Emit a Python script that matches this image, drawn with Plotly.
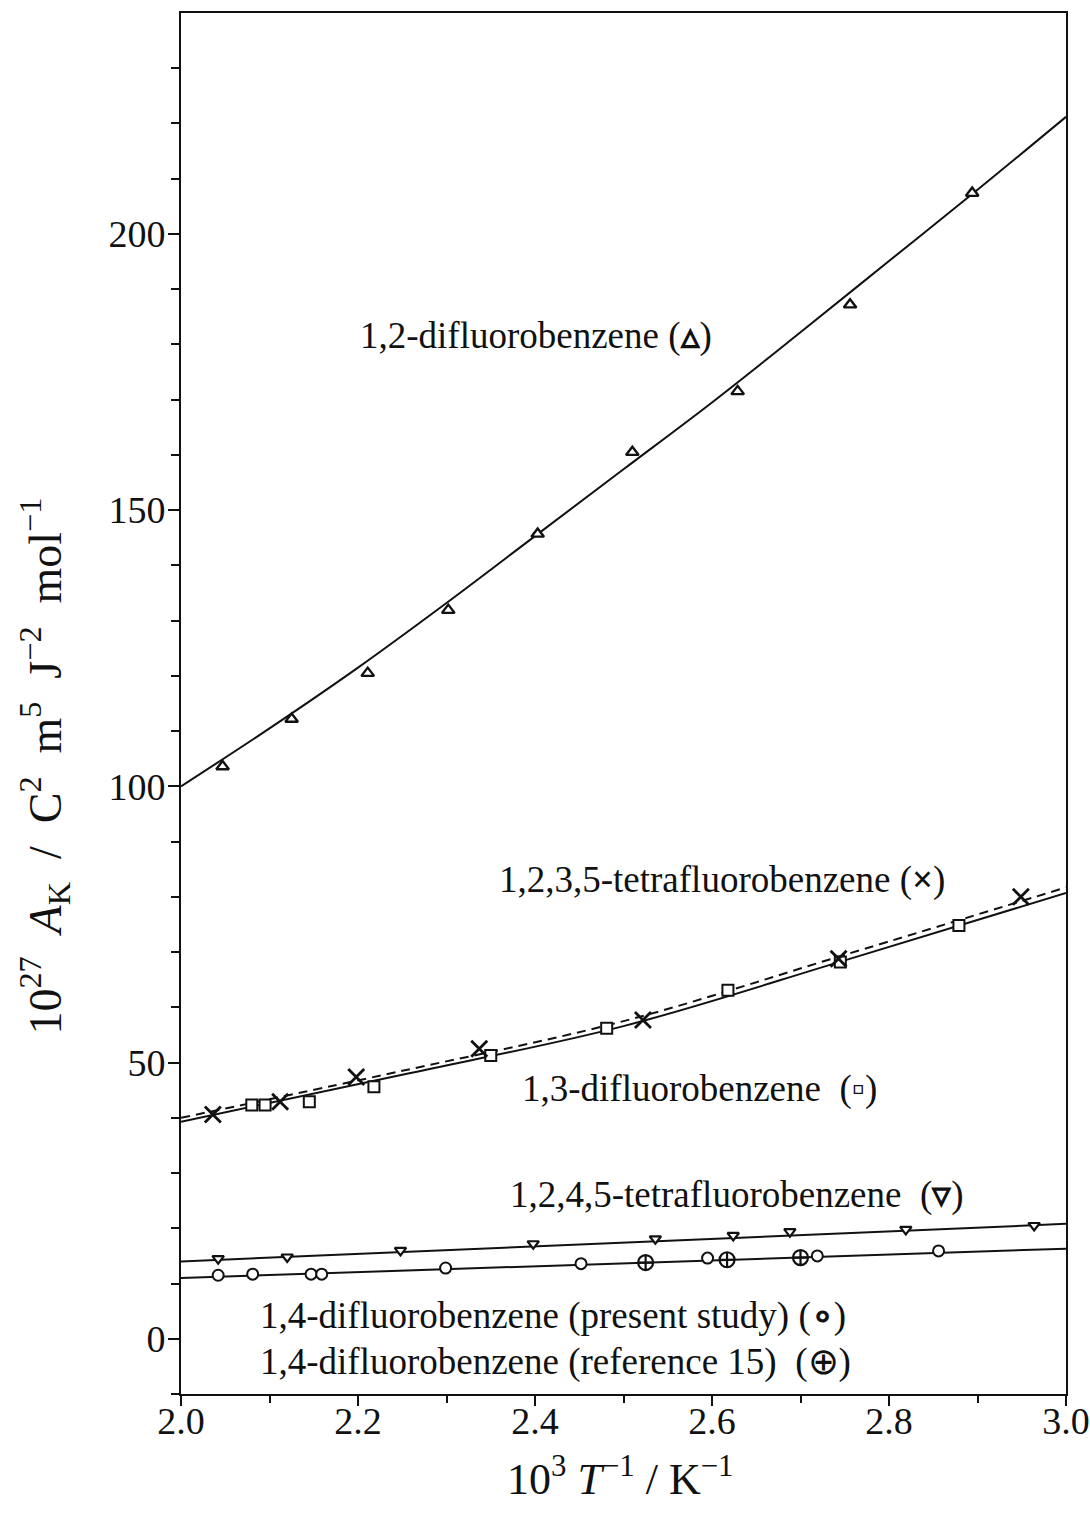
import plotly.graph_objects as go

# ---- data ----
# 1,2-difluorobenzene (triangles)
dfb12_x = [2.047, 2.125, 2.211, 2.302, 2.403, 2.510, 2.629, 2.756, 2.894]
dfb12_y = [103.6, 112.2, 120.5, 131.9, 145.7, 160.5, 171.5, 187.2, 207.4]
dfb12_fit_x = [2.0, 2.1, 2.2, 2.3, 2.4, 2.5, 2.6, 2.7, 2.8, 2.9, 3.0]
dfb12_fit_y = [100.0, 110.5, 121.5, 133.2, 145.3, 157.4, 169.5, 182.2, 195.1, 208.0, 221.2]

# 1,2,3,5-tetrafluorobenzene (crosses)
tfb1235_x = [2.036, 2.112, 2.198, 2.337, 2.522, 2.743, 2.949]
tfb1235_y = [40.6, 42.9, 47.4, 52.5, 57.7, 68.8, 80.0]
tfb1235_fit_x = [2.0, 2.25, 2.5, 2.75, 3.0]
tfb1235_fit_y = [40.0, 48.5, 57.5, 69.5, 81.7]

# 1,3-difluorobenzene (squares)
dfb13_x = [2.080, 2.095, 2.145, 2.218, 2.350, 2.481, 2.618, 2.745, 2.879]
dfb13_y = [42.3, 42.3, 42.9, 45.6, 51.3, 56.2, 63.1, 68.2, 74.8]
dfb13_fit_x = [2.0, 2.25, 2.5, 2.75, 3.0]
dfb13_fit_y = [39.3, 47.8, 56.6, 68.5, 80.7]

# 1,2,4,5-tetrafluorobenzene (inverted triangles)
tfb1245_x = [2.042, 2.120, 2.248, 2.398, 2.536, 2.624, 2.688, 2.819, 2.964]
tfb1245_y = [14.5, 14.8, 16.0, 17.2, 18.1, 18.7, 19.4, 19.8, 20.5]
tfb1245_fit_x = [2.0, 3.0]
tfb1245_fit_y = [14.0, 20.8]

# 1,4-difluorobenzene, present study (circles)
dfb14_x = [2.042, 2.081, 2.147, 2.159, 2.299, 2.452, 2.595, 2.719, 2.856]
dfb14_y = [11.5, 11.7, 11.7, 11.7, 12.8, 13.6, 14.6, 15.0, 15.9]
dfb14_fit_x = [2.0, 3.0]
dfb14_fit_y = [11.0, 16.3]

# 1,4-difluorobenzene, reference 15 (circle-plus)
dfb14ref_x = [2.525, 2.617, 2.700]
dfb14ref_y = [13.8, 14.3, 14.7]

# labels
labels = [
    "1,2-difluorobenzene (<b>▵</b>)",
    "1,2,3,5-tetrafluorobenzene (<b>×</b>)",
    "1,3-difluorobenzene  (<b>▫</b>)",
    "1,2,4,5-tetrafluorobenzene  (<b>▿</b>)",
    "1,4-difluorobenzene (present study) (<b>∘</b>)",
    "1,4-difluorobenzene (reference 15)  (⊕)",
]
label_x = [2.200, 2.357, 2.383, 2.369, 2.087, 2.087]
label_y = [181.6, 83.0, 45.2, 26.1, 4.2, -4.2]

x_ticks = [2.0, 2.2, 2.4, 2.6, 2.8, 3.0]
x_ticklabels = ["2.0", "2.2", "2.4", "2.6", "2.8", "3.0"]
y_ticks = [0, 50, 100, 150, 200]
y_ticklabels = ["0", "50", "100", "150", "200"]

FONT = "Liberation Serif"
BLACK = "#111111"
SP = "&nbsp;&nbsp;"

fig = go.Figure()

def line(x, y, dash="solid"):
    fig.add_trace(go.Scatter(x=x, y=y, mode="lines",
                             line=dict(color=BLACK, width=2, dash=dash, shape="spline"),
                             showlegend=False, hoverinfo="skip"))

def pts(x, y, symbol, size, width=2):
    fig.add_trace(go.Scatter(x=x, y=y, mode="markers",
                             marker=dict(symbol=symbol, size=size, color="white",
                                         line=dict(color=BLACK, width=width)),
                             showlegend=False))

line(dfb12_fit_x, dfb12_fit_y)
line(tfb1235_fit_x, tfb1235_fit_y, dash="9px,6px")
line(dfb13_fit_x, dfb13_fit_y)
line(tfb1245_fit_x, tfb1245_fit_y)
line(dfb14_fit_x, dfb14_fit_y)

pts(dfb12_x, dfb12_y, "triangle-up", 11, 2.4)
pts(dfb13_x, dfb13_y, "square", 11, 2.0)
fig.add_trace(go.Scatter(x=tfb1235_x, y=tfb1235_y, mode="markers",
                         marker=dict(symbol="x-thin-open", size=16, color=BLACK,
                                     line=dict(color=BLACK, width=2.8)),
                         showlegend=False))
pts(tfb1245_x, tfb1245_y, "triangle-down", 10, 2.2)
pts(dfb14_x, dfb14_y, "circle", 11, 2.0)
fig.add_trace(go.Scatter(x=dfb14ref_x, y=dfb14ref_y, mode="markers",
                         marker=dict(symbol="circle-cross-open", size=15, color=BLACK,
                                     line=dict(color=BLACK, width=2.2)),
                         showlegend=False))

for t, lx, ly in zip(labels, label_x, label_y):
    fig.add_annotation(x=lx, y=ly, text=t, showarrow=False, xanchor="left",
                       yanchor="middle", font=dict(family=FONT, size=37, color=BLACK))

ytitle = (f"10<sup>27</sup>{SP}<i>A</i><sub>K</sub>{SP}/{SP}C<sup>2</sup>{SP}m<sup>5</sup>"
          f"{SP}J<sup>−2</sup>{SP}mol<sup>−1</sup>")
xtitle = "10<sup>3</sup> <i>T</i><sup>−1</sup> / K<sup>−1</sup>"

# axis titles placed as annotations (paper coords)
fig.add_annotation(xref="paper", yref="paper", x=-0.1537, y=0.455, text=ytitle,
                   textangle=-90, showarrow=False, xanchor="center", yanchor="middle",
                   font=dict(family=FONT, size=46, color=BLACK))
fig.add_annotation(xref="paper", yref="paper", x=0.496, y=-0.0594, text=xtitle,
                   showarrow=False, xanchor="center", yanchor="middle",
                   font=dict(family=FONT, size=44, color=BLACK))

fig.update_layout(
    width=1090, height=1520,
    margin=dict(l=181, r=24, t=13, b=126),
    paper_bgcolor="white", plot_bgcolor="white",
    font=dict(family=FONT, color=BLACK),
    xaxis=dict(range=[2.0, 3.0], tickmode="array", tickvals=x_ticks,
               ticktext=x_ticklabels, ticks="outside", ticklen=10, tickwidth=2,
               tickcolor=BLACK, showline=True, linewidth=2, linecolor=BLACK,
               mirror=True, showgrid=False, zeroline=False, ticklabeloverflow="allow",
               automargin=False, ticklabelstandoff=-18,
               tickfont=dict(family=FONT, size=38, color=BLACK),
               minor=dict(tickvals=[2.1, 2.3, 2.5, 2.7, 2.9], ticks="outside",
                          ticklen=7, tickwidth=2, tickcolor=BLACK, showgrid=False)),
    yaxis=dict(range=[-10, 240], tickmode="array", tickvals=y_ticks,
               ticktext=y_ticklabels, ticks="outside", ticklen=11, tickwidth=2,
               tickcolor=BLACK, showline=True, linewidth=2, linecolor=BLACK,
               mirror=True, showgrid=False, zeroline=False, automargin=False,
               ticklabelstandoff=-5,
               tickfont=dict(family=FONT, size=38, color=BLACK),
               minor=dict(tickvals=[-10, 10, 20, 30, 40, 60, 70, 80, 90, 110, 120, 130,
                                    140, 160, 170, 180, 190, 210, 220, 230],
                          ticks="outside", ticklen=8, tickwidth=2, tickcolor=BLACK,
                          showgrid=False)),
)

fig.write_html("out.html")
